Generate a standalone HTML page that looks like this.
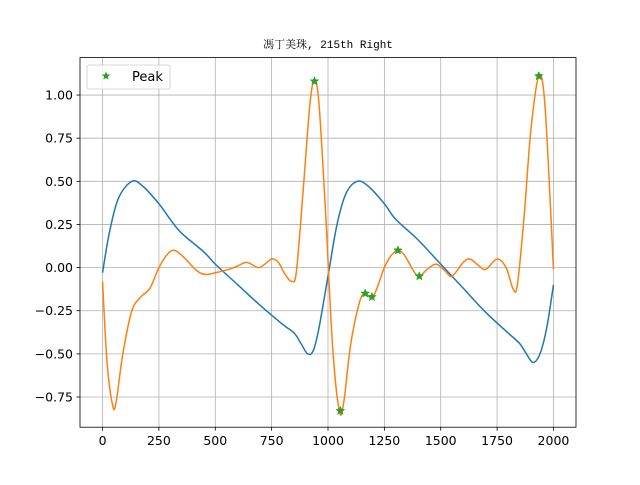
<!DOCTYPE html>
<html><head><meta charset="utf-8"><style>
body{margin:0;background:#fff;width:640px;height:480px;overflow:hidden}
svg text{font-family:"DejaVu Sans","Liberation Sans",sans-serif;font-size:12.5px;fill:#000}
</style></head><body>
<svg id="c" width="640" height="480">
<text x="328" y="48" text-anchor="middle" style="font-family:'Liberation Mono','Noto Serif CJK SC',monospace;font-size:11px">馮丁美珠, 215th Right</text>
</svg>
<script>
const blueX=[0,30,70,130,180,250,300,350,450,500,600,700,800,850,880,910,935,960,1000,1040,1080,1130,1180,1250,1300,1400,1500,1600,1700,1800,1850,1880,1910,1940,1970,2000];
const blueY=[-0.03,0.2,0.4,0.5,0.47,0.37,0.28,0.2,0.09,0.02,-0.1,-0.22,-0.33,-0.38,-0.44,-0.5,-0.48,-0.35,-0.05,0.25,0.43,0.5,0.47,0.37,0.28,0.16,0.02,-0.12,-0.26,-0.38,-0.44,-0.5,-0.55,-0.5,-0.35,-0.1];
const orangeX=[0,20,45,60,90,130,170,210,250,290,320,360,420,460,500,560,600,640,690,720,750,780,810,840,860,890,920,940,960,990,1020,1050,1070,1100,1140,1165,1200,1250,1280,1310,1340,1380,1405,1440,1480,1520,1550,1600,1630,1670,1700,1750,1790,1820,1840,1870,1900,1935,1960,1985,2000];
const orangeY=[-0.08,-0.55,-0.8,-0.78,-0.5,-0.25,-0.17,-0.12,0.0,0.08,0.1,0.06,-0.02,-0.04,-0.03,-0.01,0.01,0.03,0.0,0.02,0.05,0.03,-0.04,-0.08,-0.02,0.45,0.95,1.08,0.95,0.3,-0.45,-0.83,-0.78,-0.45,-0.2,-0.15,-0.17,0.0,0.07,0.1,0.07,-0.02,-0.05,-0.01,0.02,-0.02,-0.05,0.03,0.05,0.01,-0.01,0.05,0.0,-0.12,-0.1,0.3,0.8,1.11,0.98,0.4,-0.01];
const peakX=[940,1055,1165,1195,1310,1405,1935];
const peakY=[1.08,-0.83,-0.15,-0.17,0.1,-0.05,1.11];
const xTicks=[0,250,500,750,1000,1250,1500,1750,2000];
const yTicks=[-0.75,-0.5,-0.25,0,0.25,0.5,0.75,1.0];
const L=80,R=576,T=57.6,B=427.2,X0=-100,X1=2100,Y0=-0.925,Y1=1.217;
const sx=v=>L+(v-X0)/(X1-X0)*(R-L), sy=v=>B-(v-Y0)/(Y1-Y0)*(B-T);
const svg=document.getElementById('c'),NS='http://www.w3.org/2000/svg';
function mk(t,a,p){const e=document.createElementNS(NS,t);for(const k in a)e.setAttribute(k,a[k]);(p||svg).appendChild(e);return e;}
xTicks.forEach(v=>{const x=sx(v);
 const g=mk('line',{x1:x,x2:x,y1:T,y2:B,stroke:'#b0b0b0','stroke-width':0.8});
 
 mk('line',{x1:x,x2:x,y1:B,y2:B+3.5,stroke:'#000','stroke-width':0.8});
 const t=mk('text',{x:x,y:B+18,'text-anchor':'middle'});t.textContent=v;
 });
yTicks.forEach(v=>{const y=sy(v);
 const g=mk('line',{x1:L,x2:R,y1:y,y2:y,stroke:'#b0b0b0','stroke-width':0.8});
 
 mk('line',{x1:L-3.5,x2:L,y1:y,y2:y,stroke:'#000','stroke-width':0.8});
 const t=mk('text',{x:L-7,y:y+4.5,'text-anchor':'end'});t.textContent=v.toFixed(2).replace('-','\u2212');
 });
function path(xs,ys){const p=xs.map((x,i)=>[sx(x),sy(ys[i])]);let d='M'+p[0][0]+','+p[0][1];
 for(let i=0;i<p.length-1;i++){const a=p[Math.max(0,i-1)],b=p[i],c=p[i+1],e=p[Math.min(p.length-1,i+2)];
 d+=' C'+(b[0]+(c[0]-a[0])/6)+','+(b[1]+(c[1]-a[1])/6)+' '+(c[0]-(e[0]-b[0])/6)+','+(c[1]-(e[1]-b[1])/6)+' '+c[0]+','+c[1];}return d;}
const bl=mk('path',{d:path(blueX,blueY),fill:'none',stroke:'#1f77b4','stroke-width':1.5});

const ol=mk('path',{d:path(orangeX,orangeY),fill:'none',stroke:'#ff7f0e','stroke-width':1.5});

function star(cx,cy,r){let s='';for(let i=0;i<10;i++){const a=-Math.PI/2+i*Math.PI/5,rr=i%2?r*0.45:r;s+=(cx+rr*Math.cos(a))+','+(cy+rr*Math.sin(a))+' ';}return s;}
peakX.forEach((v,i)=>{const s=mk('polygon',{points:star(sx(v),sy(peakY[i]),4.5),fill:'#2ca02c',stroke:'#2ca02c','stroke-width':0.5});
 });
const fr=mk('rect',{x:L,y:T,width:R-L,height:B-T,fill:'none',stroke:'#000','stroke-width':0.8});

const lg=mk('g',{});
mk('rect',{x:87,y:65,width:83,height:24,rx:2,fill:'#fff','fill-opacity':0.8,stroke:'#ccc','stroke-width':0.8},lg);
const ls=mk('polygon',{points:star(106,76,4.5),fill:'#2ca02c'},lg);

const lt=mk('text',{x:132,y:81},lg);lt.textContent='Peak';lt.style.fontSize='13px';

</script>
</body></html>
